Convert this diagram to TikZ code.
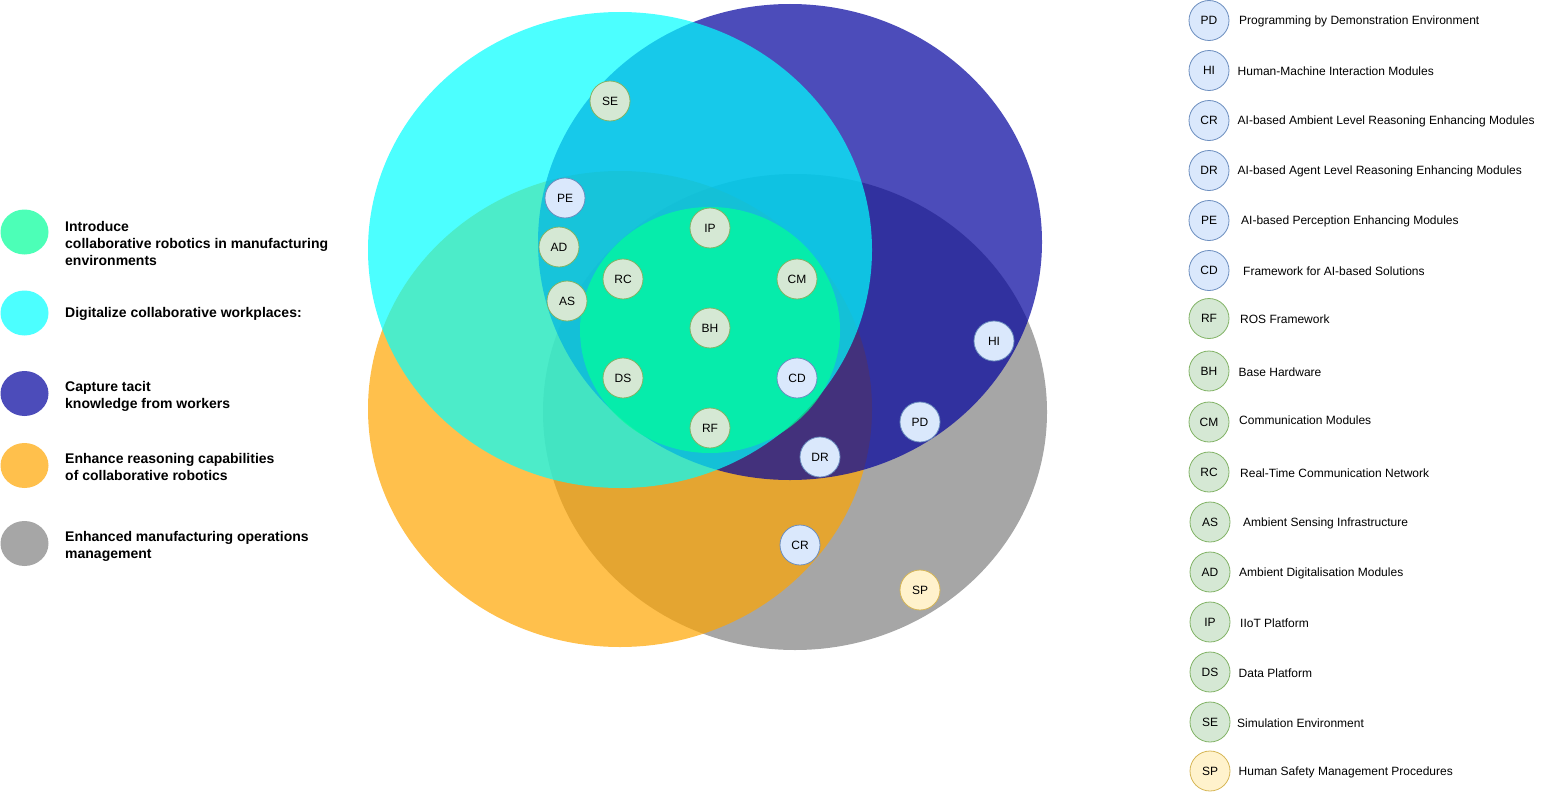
\documentclass[tikz,border=0pt]{standalone}
\usepackage{fontspec}
\setmainfont{Liberation Sans}
\usetikzlibrary{positioning}

\definecolor{setgray}{HTML}{808080}
\definecolor{setorange}{HTML}{FFA500}
\definecolor{setblue}{HTML}{00009C}
\definecolor{setcyan}{HTML}{00FFFF}
\definecolor{setgreen}{HTML}{00FF99}
\definecolor{gfill}{HTML}{D5E8D4}
\definecolor{gline}{HTML}{82B366}
\definecolor{bfill}{HTML}{DAE8FC}
\definecolor{bline}{HTML}{6C8EBF}
\definecolor{yfill}{HTML}{FFF2CC}
\definecolor{yline}{HTML}{D6B656}

\tikzset{
  item/.style={circle, draw, minimum size=40pt, inner sep=0pt, line width=0.8pt,
    font=\fontsize{12}{14}\selectfont},
  gitem/.style={item, fill=gfill, draw=gline},
  bitem/.style={item, fill=bfill, draw=bline},
  yitem/.style={item, fill=yfill, draw=yline},
  itemtext/.style={anchor=west, inner sep=0pt, yshift=-1pt, font=\fontsize{12}{14}\selectfont},
  goaltext/.style={anchor=west, align=left, inner sep=0pt, yshift=-2pt,
    font=\bfseries\fontsize{14}{17}\selectfont},
  setfill/.style={fill=#1, fill opacity=0.7},
}

\begin{document}
\begin{tikzpicture}[x=1pt, y=-1pt]
  \useasboundingbox (0,0) rectangle (1542,792);

  %% goals legend
  \begin{scope}
  \fill[setfill=setgreen]  (24.5,232) ellipse [x radius=24pt, y radius=22.5pt];
  \fill[setfill=setcyan]   (24.5,313) ellipse [x radius=24pt, y radius=22.5pt];
  \fill[setfill=setblue]   (24.5,393.5) ellipse [x radius=24pt, y radius=22.5pt];
  \fill[setfill=setorange] (24.5,465.5) ellipse [x radius=24pt, y radius=22.5pt];
  \fill[setfill=setgray]   (24.5,543.5) ellipse [x radius=24pt, y radius=22.5pt];

  \node[goaltext] (g1) at (65,241) {Introduce\\collaborative robotics in manufacturing\\environments};
  \node[goaltext] (g2) at (65,312) {Digitalize collaborative workplaces:};
  \node[goaltext] (g3) at (65,394.5) {Capture tacit\\knowledge from workers};
  \node[goaltext] (g4) at (65,464.5) {Enhance reasoning capabilities\\of collaborative robotics};
  \node[goaltext] (g5) at (65,544.5) {Enhanced manufacturing operations\\management};
  \end{scope}

  %% the sets, bottom first
  \fill[setfill=setgray]   (795,412) ellipse [x radius=252pt, y radius=238pt];
  \fill[setfill=setorange] (620,409) ellipse [x radius=252pt, y radius=238pt];
  \fill[setfill=setblue]   (790,242) ellipse [x radius=252pt, y radius=238pt];
  \fill[setfill=setcyan]   (620,250) ellipse [x radius=252pt, y radius=238pt];
  \fill[setfill=setgreen]  (710,330) ellipse [x radius=130pt, y radius=123pt];

  %% components inside the sets
  \node[gitem] (se) at (610,101) {SE};
  \node[bitem] (pe) at (565,198) {PE};
  \node[gitem] (ad) at (559,247) {AD};
  \node[gitem] (as) at (567,301) {AS};
  \node[gitem] (ip) at (710,228) {IP};
  \node[gitem] (rc) at (623,279) {RC};
  \node[gitem] (cm) at (797,279) {CM};
  \node[gitem] (bh) at (710,328) {BH};
  \node[gitem] (ds) at (623,378) {DS};
  \node[bitem] (cd) at (797,378) {CD};
  \node[gitem] (rf) at (710,428) {RF};
  \node[bitem] (hi) at (994,341) {HI};
  \node[bitem] (pd) at (920,422) {PD};
  \node[bitem] (dr) at (820,457) {DR};
  \node[bitem] (cr) at (800,545) {CR};
  \node[yitem] (sp) at (920,590) {SP};

  %% components legend
  \begin{scope}
  \node[bitem] (lpd) at (1209,20.5) {PD};
  \node[bitem] (lhi) at (1209,70.5) {HI};
  \node[bitem] (lcr) at (1209,120.5) {CR};
  \node[bitem] (ldr) at (1209,170.5) {DR};
  \node[bitem] (lpe) at (1209,220.5) {PE};
  \node[bitem] (lcd) at (1209,270.5) {CD};
  \node[gitem] (lrf) at (1209,318.5) {RF};
  \node[gitem] (lbh) at (1209,371) {BH};
  \node[gitem] (lcm) at (1209,422) {CM};
  \node[gitem] (lrc) at (1209,472) {RC};
  \node[gitem] (las) at (1210,522) {AS};
  \node[gitem] (lad) at (1210,572) {AD};
  \node[gitem] (lip) at (1210,622) {IP};
  \node[gitem] (lds) at (1210,672) {DS};
  \node[gitem] (lse) at (1210,722) {SE};
  \node[yitem] (lsp) at (1210,771) {SP};

  \node[itemtext] (tpd) at (1239,20.5) {Programming by Demonstration Environment};
  \node[itemtext] (thi) at (1237.5,70.5) {Human-Machine Interaction Modules};
  \node[itemtext] (tcr) at (1237.5,120.5) {AI-based Ambient Level Reasoning Enhancing Modules};
  \node[itemtext] (tdr) at (1237.5,170.5) {AI-based Agent Level Reasoning Enhancing Modules};
  \node[itemtext] (tpe) at (1241,220.5) {AI-based Perception Enhancing Modules};
  \node[itemtext] (tcd) at (1243,270.5) {Framework for AI-based Solutions};
  \node[itemtext] (trf) at (1240,318.5) {ROS Framework};
  \node[itemtext] (tbh) at (1238.5,371) {Base Hardware};
  \node[itemtext] (tcm) at (1239,419) {Communication Modules};
  \node[itemtext] (trc) at (1240,472) {Real-Time Communication Network};
  \node[itemtext] (tas) at (1243,522) {Ambient Sensing Infrastructure};
  \node[itemtext] (tad) at (1239,572) {Ambient Digitalisation Modules};
  \node[itemtext] (tip) at (1240,622) {IIoT Platform};
  \node[itemtext] (tds) at (1238.5,672) {Data Platform};
  \node[itemtext] (tse) at (1237,722) {Simulation Environment};
  \node[itemtext] (tsp) at (1238.5,771) {Human Safety Management Procedures};
  \end{scope}

\end{tikzpicture}
\end{document}
